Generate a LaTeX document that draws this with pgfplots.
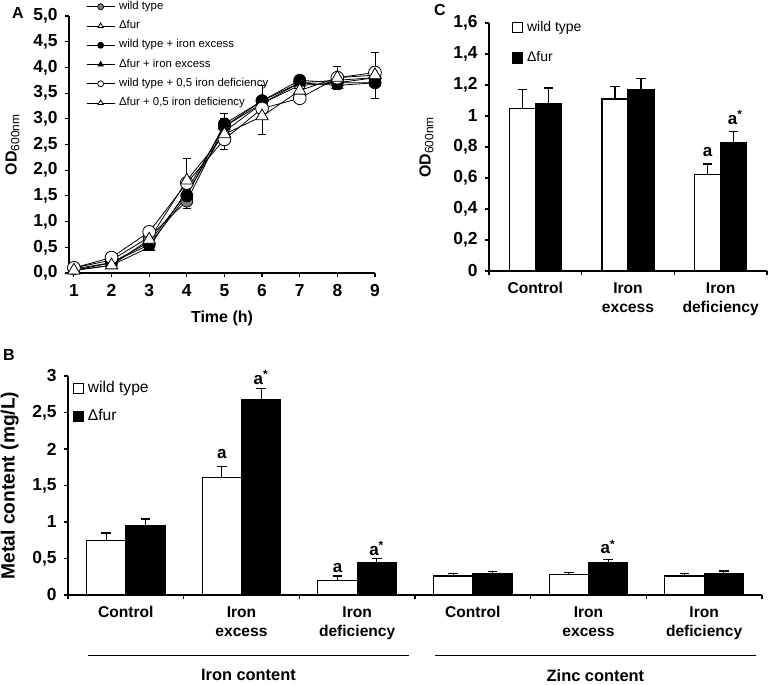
\documentclass[border=0pt]{standalone}
\usepackage{fontspec}
\setmainfont{Liberation Sans}
\usepackage{pgfplots}
\usepackage{pgfplotstable}
\pgfplotsset{compat=1.18}

% growth curves (panel A): time, six series, error columns
\pgfplotstableread{
t  wt   fur  wtex furex wtdef furdef ewt  edef
1  0.10 0.05 0.08 0.05  0.10  0.05   0.02 0.02
2  0.25 0.20 0.20 0.15  0.30  0.15   0.04 0.04
3  0.70 0.60 0.55 0.50  0.80  0.65   0.12 0.10
4  1.40 1.55 1.50 1.60  1.75  1.80   0.15 0.42
5  2.85 2.75 2.90 2.85  2.60  2.70   0.25 0.30
6  3.35 3.30 3.35 3.30  3.20  3.05   0.30 0.35
7  3.70 3.65 3.75 3.70  3.40  3.55   0.08 0.10
8  3.75 3.70 3.70 3.65  3.80  3.80   0.15 0.22
9  3.80 3.80 3.70 3.70  3.90  3.85   0.10 0.45
}\growth

% metal content (panel B)
\pgfplotstableread{
x wt   wte  fur  fure
0 0.75 0.10 0.95 0.09
1 1.61 0.15 2.68 0.15
2 0.20 0.06 0.45 0.05
3 0.26 0.03 0.29 0.03
4 0.28 0.03 0.45 0.04
5 0.26 0.03 0.29 0.04
}\metal

% OD after growth (panel C)
\pgfplotstableread{
x wt   wte  fur  fure
0 1.05 0.12 1.08 0.10
1 1.11 0.08 1.17 0.07
2 0.62 0.07 0.83 0.07
}\odtab

\tikzset{annot/.style={font=\fontsize{8.5}{9}\selectfont\bfseries}}

\pgfplotsset{
  panel/.style={scale only axis, axis lines=left, axis line style={-, line width=0.7pt},
    tick align=outside, major tick length=2.2pt, tick style={black, line width=0.6pt},
    /pgf/number format/assume math mode=true, /pgf/number format/use comma,
    ticklabel style={font=\fontsize{8.7}{9}\selectfont\bfseries},
    label style={font=\fontsize{8}{9}\selectfont\bfseries}, clip=false},
  barpanel/.style={panel, ybar, ybar=0pt, bar width=0.34,
    x tick label as interval, xmin=-0.5,
    xticklabel style={align=center, font=\fontsize{7.8}{9.5}\selectfont\bfseries},
    legend image code/.code={\draw[##1, line width=0.5pt] (0pt,-2.6pt) rectangle (5.2pt,2.6pt);},
    legend style={draw=none, fill=none, inner sep=0pt, legend cell align=left}},
  wtbar/.style={fill=white, draw=black, line width=0.6pt,
    error bars/.cd, y dir=plus, y explicit, error bar style={line width=0.6pt},
    error mark options={rotate=90, mark size=2.4pt, line width=0.6pt}},
  furbar/.style={fill=black, draw=black, line width=0.6pt,
    error bars/.cd, y dir=plus, y explicit, error bar style={line width=0.6pt},
    error mark options={rotate=90, mark size=2.4pt, line width=0.6pt}},
}

\begin{document}
\begin{tikzpicture}
\useasboundingbox (0,0) rectangle (386.5pt,342.5pt);

% ---------- A ----------
\begin{axis}[panel, at={(34.5pt,206pt)}, anchor=south west, width=153pt, height=128.5pt,
  xmin=0.87, xmax=9, ymin=0, ymax=5, xtick={1,...,9}, ytick={0,0.5,...,5},
  yticklabel style={/pgf/number format/.cd, fixed, fixed zerofill, precision=1, use comma},
  xlabel={Time (h)}, ylabel={OD\textsubscript{\mdseries 600nm}},
  every axis plot/.append style={black, line width=0.4pt},
  legend style={draw=none, fill=none, at={(0.055,1.075)}, anchor=north west, inner sep=0pt,
    font=\fontsize{5.7}{6.5}\selectfont, row sep=0pt, legend cell align=left},
  legend image code/.code={\draw[mark repeat=2, mark phase=2, #1] plot coordinates {(0pt,0pt) (7pt,0pt) (14pt,0pt)};},
  legend image post style={mark size=1.5pt}]
\addplot[mark=*, mark size=3pt, mark options={fill=gray, draw=black},
  error bars/.cd, y dir=both, y explicit, error mark options={rotate=90, mark size=2pt}]
  table[x=t, y=wt, y error=ewt] {\growth};
\addlegendentry{wild type}
\addplot[mark=triangle*, mark size=3.2pt, mark options={fill=white, draw=black}]
  table[x=t, y=fur] {\growth};
\addlegendentry{Δfur}
\addplot[mark=*, mark size=3pt, mark options={fill=black}]
  table[x=t, y=wtex] {\growth};
\addlegendentry{wild type + iron excess}
\addplot[mark=triangle*, mark size=3.2pt, mark options={fill=black}]
  table[x=t, y=furex] {\growth};
\addlegendentry{Δfur +  iron excess}
\addplot[mark=*, mark size=3.2pt, mark options={fill=white, draw=black}]
  table[x=t, y=wtdef] {\growth};
\addlegendentry{wild type + 0,5 iron deficiency}
\addplot[mark=triangle*, mark size=3.6pt, mark options={fill=white, draw=black},
  error bars/.cd, y dir=both, y explicit, error mark options={rotate=90, mark size=2pt}]
  table[x=t, y=furdef, y error=edef] {\growth};
\addlegendentry{Δfur + 0,5 iron deficiency}
\end{axis}

% ---------- C ----------
\begin{axis}[barpanel, at={(244.5pt,207pt)}, anchor=south west, width=139pt, height=124pt,
  bar width=0.28, xmax=2.5, ymin=0, ymax=1.6, ytick={0,0.2,...,1.6},
  yticklabel style={/pgf/number format/.cd, fixed, precision=1, use comma},
  xtick={-0.5,0.5,1.5,2.5},
  xticklabels={Control, Iron\\excess, Iron\\deficiency},
  ylabel={OD\textsubscript{\mdseries 600nm}}, ylabel shift=3pt,
  legend style={at={(0.08,1.025)}, anchor=north west, row sep=4.5pt, font=\fontsize{7}{7.5}\selectfont}]
\addplot[bar shift=-0.14, wtbar] table[x=x, y=wt, y error=wte] {\odtab};
\addlegendentry{wild type}
\addplot[bar shift=0.14, furbar] table[x=x, y=fur, y error=fure] {\odtab};
\addlegendentry{Δfur}
\node[annot] at (axis cs:1.86,0.77) {a};
\node[annot] at (axis cs:2.16,0.99) {a\textsuperscript{*}};
\end{axis}

% ---------- B ----------
\begin{axis}[barpanel, at={(34pt,45pt)}, anchor=south west, width=347pt, height=109.5pt,
  xmax=5.5, ymin=0, ymax=3, ytick={0,0.5,...,3},
  yticklabel style={/pgf/number format/.cd, fixed, precision=1, use comma},
  xtick={-0.5,0.5,...,5.5},
  xticklabels={Control, Iron\\excess, Iron\\deficiency, Control, Iron\\excess, Iron\\deficiency},
  ylabel={Metal content (mg/L)}, ylabel style={font=\fontsize{9.6}{10}\selectfont\bfseries},
  legend style={at={(0.006,0.995)}, anchor=north west, row sep=2.8pt, font=\fontsize{7.8}{8}\selectfont}]
\addplot[bar shift=-0.17, wtbar] table[x=x, y=wt, y error=wte] {\metal};
\addlegendentry{wild type}
\addplot[bar shift=0.17, furbar] table[x=x, y=fur, y error=fure] {\metal};
\addlegendentry{Δfur}
\node[annot] at (axis cs:0.83,1.93) {a};
\node[annot] at (axis cs:1.17,2.98) {a\textsuperscript{*}};
\node[annot] at (axis cs:1.83,0.37) {a};
\node[annot] at (axis cs:2.17,0.64) {a\textsuperscript{*}};
\node[annot] at (axis cs:4.17,0.66) {a\textsuperscript{*}};
\draw[line width=0.45pt] (axis cs:-0.33,-0.83) -- (axis cs:2.45,-0.83);
\draw[line width=0.45pt] (axis cs:2.67,-0.83) -- (axis cs:5.45,-0.83);
\node[font=\fontsize{8.2}{9}\selectfont\bfseries] at (axis cs:1.06,-1.1) {Iron content};
\node[font=\fontsize{8.2}{9}\selectfont\bfseries] at (axis cs:4.06,-1.1) {Zinc content};
\end{axis}

% panel letters
\node[font=\fontsize{8}{9}\selectfont\bfseries] at (9pt,336pt) {A};
\node[font=\fontsize{8}{9}\selectfont\bfseries] at (220pt,337.5pt) {C};
\node[font=\fontsize{8}{9}\selectfont\bfseries] at (4.5pt,165pt) {B};
\end{tikzpicture}
\end{document}
